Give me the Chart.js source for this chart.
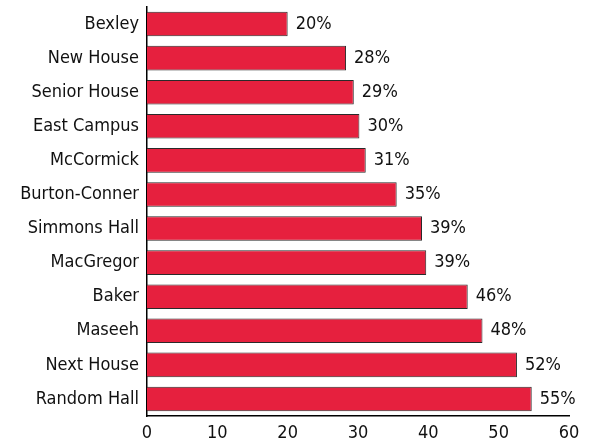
<!DOCTYPE html>
<html>
<head>
<meta charset="utf-8">
<script src="https://cdn.jsdelivr.net/npm/chart.js@4"></script>
<style>
html,body{margin:0;padding:0;background:#fff;}
canvas{display:block;}
</style>
</head>
<body>
<canvas id="c" width="601" height="445"></canvas>
<script>
const categories = ["Bexley","New House","Senior House","East Campus","McCormick","Burton-Conner","Simmons Hall","MacGregor","Baker","Maseeh","Next House","Random Hall"];
const values = [20.0, 28.3, 29.4, 30.2, 31.1, 35.5, 39.1, 39.7, 45.6, 47.7, 52.6, 54.7];
const valueLabels = ["20%","28%","29%","30%","31%","35%","39%","39%","46%","48%","52%","55%"];
const xTicks = [0,10,20,30,40,50,60];

const FONT = "'Liberation Sans Narrow','DejaVu Sans Condensed','Roboto Condensed',sans-serif";

const valueLabelPlugin = {
  id: 'valueLabels',
  afterDatasetsDraw(chart) {
    const ctx = chart.ctx;
    const meta = chart.getDatasetMeta(0);
    ctx.save();
    ctx.font = "18px " + FONT;
    ctx.fillStyle = "#111";
    ctx.textAlign = "left";
    ctx.textBaseline = "middle";
    meta.data.forEach((bar, i) => {
      ctx.fillText(valueLabels[i], bar.x + 8, bar.y);
    });
    ctx.restore();
  }
};

new Chart(document.getElementById('c'), {
  type: 'bar',
  data: {
    labels: categories,
    datasets: [{
      data: values,
      backgroundColor: '#e6203e',
      borderColor: '#2a2a2a',
      borderWidth: 1,
      barPercentage: 0.72,
      categoryPercentage: 1.0
    }]
  },
  options: {
    indexAxis: 'y',
    responsive: false,
    animation: false,
    layout: { padding: { top: 7, right: 32, left: 0, bottom: 0 } },
    plugins: { legend: { display: false }, tooltip: { enabled: false } },
    scales: {
      y: {
        grid: { display: false, drawTicks: false },
        border: { display: true, color: '#000', width: 1.5 },
        ticks: { color: '#111', font: { family: FONT, size: 18 }, padding: 8 },
        afterFit(scale) { scale.width = 147; scale.paddingTop = 0; scale.paddingBottom = 0; }
      },
      x: {
        min: 0, max: 60,
        afterBuildTicks(scale) { scale.ticks = xTicks.map(v => ({ value: v })); },
        grid: { display: false, drawTicks: false },
        border: { display: true, color: '#000', width: 1.5 },
        ticks: { color: '#111', font: { family: FONT, size: 18 }, padding: 7, maxRotation: 0 },
        afterFit(scale) { scale.height = 29; }
      }
    }
  },
  plugins: [valueLabelPlugin]
});
</script>
</body>
</html>
